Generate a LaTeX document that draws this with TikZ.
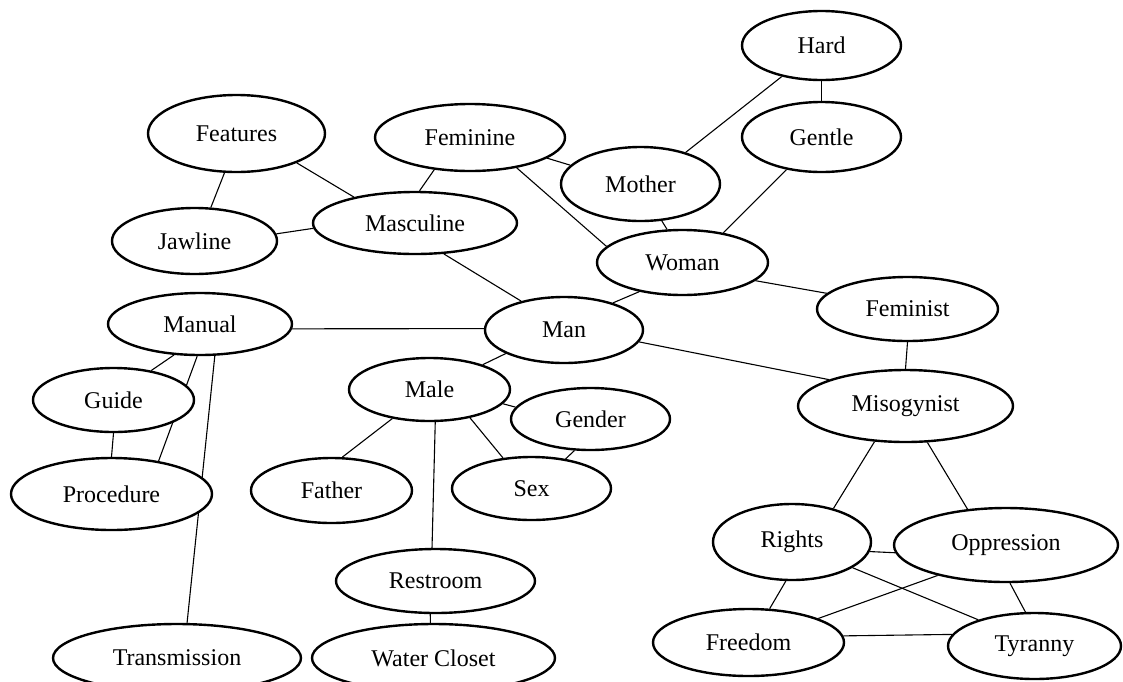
\documentclass[tikz,border=0pt]{standalone}
\usepackage{fontspec}
\setmainfont{Liberation Serif}
\usetikzlibrary{shapes.geometric}
\pgfdeclarelayer{bg}
\pgfsetlayers{bg,main}
\tikzset{
  term/.style={ellipse, draw, fill=white, line width=2.4pt, inner sep=0pt,
               font=\fontsize{24}{28}\selectfont},
  link/.style={line width=1.1pt},
}
% place an ellipse: name, x, y, half-width, half-height, label
\newcommand{\term}[6]{\node[term, minimum width=#4*2pt-2pt, minimum height=#5*2pt-2pt] (#1) at (#2,#3) {#6};}
\begin{document}
\begin{tikzpicture}[x=1pt,y=-1pt]
\useasboundingbox (0,0) rectangle (1123,681);
\clip (0,0) rectangle (1123,681);

\term{features}{236.5}{133.5}{89.5}{39.5}{Features}
\term{jawline}{194.5}{241}{83.5}{34}{Jawline}
\term{masculine}{415}{223}{103}{32}{Masculine}
\term{feminine}{470}{137.5}{96}{34.5}{Feminine}
\term{mother}{640.5}{184}{80.5}{38}{Mother}
\term{hard}{821.5}{45.5}{80.5}{35.5}{Hard}
\term{gentle}{821.5}{137}{80.5}{36}{Gentle}
\term{woman}{682.5}{262.5}{86.5}{33.5}{Woman}
\term{feminist}{907.5}{309}{91.5}{33}{Feminist}
\term{manual}{200}{324}{93}{32}{Manual}
\term{man}{564}{330}{80}{34}{Man}
\term{guide}{113.5}{400}{81.5}{33}{Guide}
\term{male}{429.5}{389.5}{81.5}{32.5}{Male}
\term{gender}{590.5}{419}{80.5}{32}{Gender}
\term{misogynist}{905.5}{406}{108.5}{37}{Misogynist}
\term{procedure}{111.5}{494}{101.5}{37}{Procedure}
\term{father}{331.5}{490.5}{81.5}{33.5}{Father}
\term{sex}{531.5}{488.5}{80.5}{32.5}{Sex}
\term{rights}{792}{542}{80}{39}{Rights}
\term{oppression}{1006}{545}{113}{38}{Oppression}
\term{restroom}{435.5}{581}{100.5}{33}{Restroom}
\term{freedom}{748.5}{642.5}{96.5}{34.5}{Freedom}
\term{tyranny}{1034.5}{646}{87.5}{34}{Tyranny}
\term{transmission}{177}{658}{125}{35}{Transmission}
\term{watercloset}{433.5}{658}{122.5}{35}{Water Closet}

\begin{pgfonlayer}{bg}
\draw[link] (features.-107.6) -- (jawline.64.1);
\draw[link] (features.-26) -- (masculine.157.9);
\draw[link] (jawline.5.5) -- (masculine.-177);
\draw[link] (feminine.-138.5) -- (masculine.82.9);
\draw[link] (feminine.-15.8) -- (mother.165.9);
\draw[link] (feminine.-33.8) -- (woman.168.5);
\draw[link] (hard.-142.1) -- (mother.35.1);
\draw[link] (hard.-90) -- (gentle.90);
\draw[link] (gentle.-137.9) -- (woman.36.1);
\draw[link] (mother.-60.5) -- (woman.115.5);
\draw[link] (masculine.-47.8) -- (man.146.9);
\draw[link] (woman.-146.7) -- (man.29.2);
\draw[link] (woman.-14.9) -- (feminist.169.7);
\draw[link] (feminist.-90) -- (misogynist.90);
\draw[link] (man.-9.6) -- (misogynist.161.5);
\draw[link] (manual.-3.1) -- (man.179.3);
\draw[link] (man.-158.2) -- (male.25.9);
\draw[link] (manual.-130.2) -- (guide.38.1);
\draw[link] (manual.-95.2) -- (procedure.35.8);
\draw[link] (manual.-65.6) -- (transmission.74.1);
\draw[link] (guide.-90) -- (procedure.90);
\draw[link] (male.-142.5) -- (father.72.1);
\draw[link] (male.-80.7) -- (restroom.96.1);
\draw[link] (male.-35.4) -- (sex.133.1);
\draw[link] (male.-11.5) -- (gender.171.8);
\draw[link] (gender.-117.3) -- (sex.41.6);
\draw[link] (restroom.-99.5) -- (watercloset.95.7);
\draw[link] (misogynist.-131.3) -- (rights.39.7);
\draw[link] (misogynist.-59.4) -- (oppression.137.9);
\draw[link] (rights.-7.8) -- (oppression.-176);
\draw[link] (rights.-99.7) -- (freedom.58.1);
\draw[link] (rights.-23.9) -- (tyranny.155.2);
\draw[link] (oppression.-156.3) -- (freedom.19.6);
\draw[link] (oppression.-84.4) -- (tyranny.105.6);
\draw[link] (freedom.4.4) -- (tyranny.172.6);
\end{pgfonlayer}
\end{tikzpicture}
\end{document}
